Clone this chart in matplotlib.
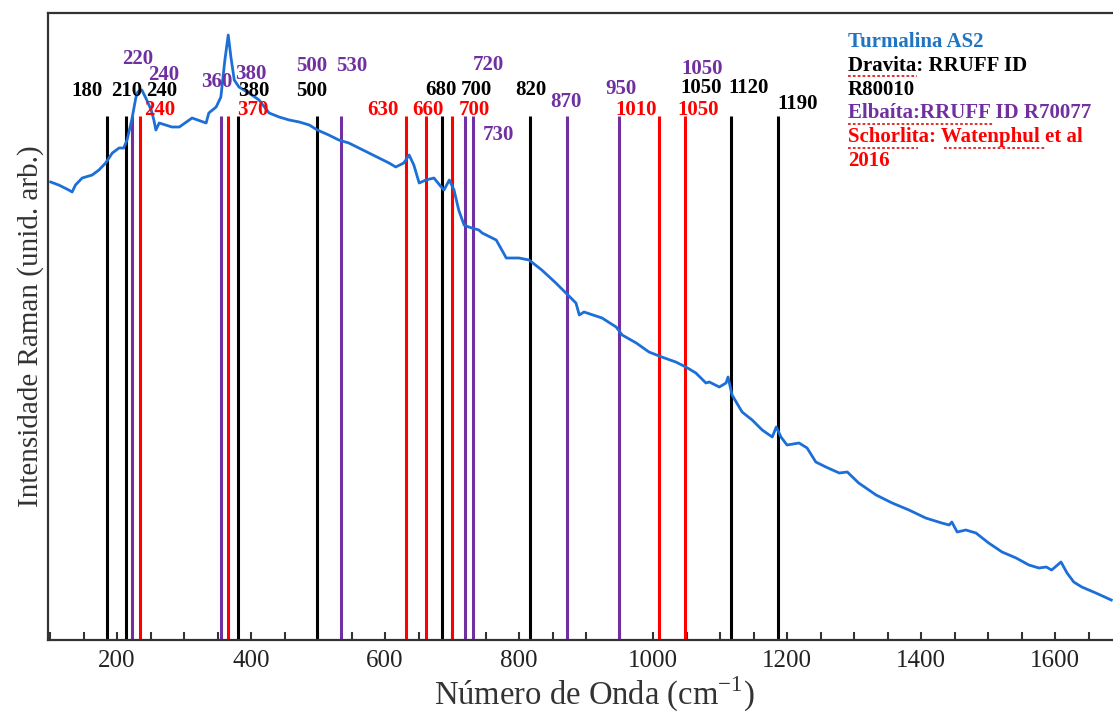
"""Espectro Raman de turmalina AS2 con bandas de referencia (dravita, elbaita, schorlita)."""

import matplotlib

matplotlib.use("Agg")
import matplotlib.pyplot as plt  # noqa: E402
from matplotlib.lines import Line2D  # noqa: E402
from matplotlib.ticker import MultipleLocator  # noqa: E402

FUENTE = "Liberation Serif"
COLOR_ESPECTRO = "#1d6fd8"
COLOR_TITULO = "#1f74c4"
COLOR_DRAVITA = "black"
COLOR_ELBAITA = "#7030a0"
COLOR_SCHORLITA = "#ff0000"
ANCHO, ALTO = 1113, 713

# Espectro (numero de onda, intensidad arbitraria)
numero_onda = [
    101, 113, 128, 133, 138, 148, 163, 173, 183, 193, 203, 210, 215, 222, 228,
    231, 237, 243, 251, 255, 258, 263, 282, 293, 312, 333, 337, 348, 355, 361,
    366, 370, 375, 382, 397, 412, 427, 442, 457, 472, 487, 499, 516, 531, 546,
    561, 576, 591, 606, 616, 628, 636, 643, 651, 661, 673, 684, 688, 696, 703,
    710, 718, 725, 740, 745, 766, 781, 800, 815, 834, 855, 870, 885, 890, 897,
    924, 945, 954, 975, 994, 1013, 1034, 1049, 1064, 1079, 1084, 1099, 1109,
    1112, 1118, 1133, 1148, 1163, 1178, 1184, 1191, 1200, 1218, 1230, 1243,
    1258, 1278, 1290, 1307, 1333, 1357, 1382, 1407, 1431, 1442, 1446, 1454,
    1467, 1482, 1501, 1521, 1542, 1561, 1576, 1587, 1595, 1609, 1618, 1628,
    1640, 1661, 1684,
]
intensidad = [
    458, 455, 450, 448, 455, 462, 465, 470, 477, 487, 492, 492, 500, 520, 542,
    548, 550, 542, 530, 520, 510, 517, 513, 513, 522, 517, 527, 533, 543, 580,
    605, 583, 560, 553, 547, 540, 527, 523, 520, 518, 515, 510, 505, 500, 497,
    492, 487, 482, 477, 473, 477, 485, 475, 457, 460, 462, 453, 450, 460, 450,
    430, 415, 413, 410, 407, 400, 382, 382, 380, 370, 357, 347, 337, 325, 328,
    322, 313, 305, 297, 288, 283, 278, 273, 267, 257, 258, 253, 257,
    263, 245, 228, 220, 210, 203, 213, 203, 195, 197, 192, 178,
    173, 167, 168, 157, 145, 137, 130, 122, 117, 115, 118, 108,
    110, 107, 97, 88, 82, 75, 72, 73, 70, 78, 67, 58,
    53, 47, 40,
]

# Posiciones de las lineas de referencia (cm-1)
lineas_dravita = [185, 213, 381, 498, 685, 816, 1116, 1187]
lineas_elbaita = [222, 355, 534, 719, 731, 871, 949]
lineas_schorlita = [234, 366, 631, 661, 700, 1009, 1048]
TOPE_LINEAS = 524

# Rotulos de bandas y donde van (x en cm-1, y en intensidad)
rotulos_dravita = ["180", "210", "240", "380", "500", "680", "700", "820", "1050", "1120", "1190"]
pos_dravita = [(155, 549), (215, 549), (266, 549), (404, 549), (491, 549), (684, 550),
               (736, 550), (818, 550), (1072, 552), (1143, 552), (1216, 536)]
rotulos_elbaita = ["220", "240", "360", "380", "500", "530", "720", "730", "870", "950", "1050"]
pos_elbaita = [(231, 581), (269, 565), (349, 558), (400, 566), (491, 574), (551, 574),
               (754, 575), (769, 505), (870, 538), (952, 551), (1073, 571)]
rotulos_schorlita = ["240", "370", "630", "660", "700", "1010", "1050"]
pos_schorlita = [(263, 530), (403, 530), (597, 530), (664, 530), (733, 530),
                 (975, 530), (1067, 530)]

leyenda = [
    ("Turmalina AS2", COLOR_TITULO),
    ("Dravita: RRUFF ID", COLOR_DRAVITA),
    ("R80010", COLOR_DRAVITA),
    ("Elbaíta:RRUFF ID R70077", COLOR_ELBAITA),
    ("Schorlita: Watenphul et al", COLOR_SCHORLITA),
    ("2016", COLOR_SCHORLITA),
]
# Subrayado del corrector ortografico (x0, x1, y en pixeles)
subrayados = [(848, 917, 76), (848, 993, 124), (848, 918, 148), (944, 1045, 148)]

plt.rcParams["font.family"] = [FUENTE, "DejaVu Serif"]

fig = plt.figure(figsize=(ANCHO / 100, ALTO / 100), dpi=100)
ax = fig.add_axes([48 / ANCHO, 73 / ALTO, 1074 / ANCHO, 627 / ALTO])

ax.plot(numero_onda, intensidad, color=COLOR_ESPECTRO, lw=2.0, zorder=3)

for pos in lineas_dravita:
    ax.vlines(pos, 0, TOPE_LINEAS, color=COLOR_DRAVITA, lw=2.2, zorder=2)
for pos in lineas_elbaita:
    ax.vlines(pos, 0, TOPE_LINEAS, color=COLOR_ELBAITA, lw=2.2, zorder=2)
for pos in lineas_schorlita:
    ax.vlines(pos, 0, TOPE_LINEAS, color=COLOR_SCHORLITA, lw=2.2, zorder=2)

for grupo, color in (
    (zip(rotulos_dravita, pos_dravita), COLOR_DRAVITA),
    (zip(rotulos_elbaita, pos_elbaita), COLOR_ELBAITA),
    (zip(rotulos_schorlita, pos_schorlita), COLOR_SCHORLITA),
):
    for texto, (x, y) in grupo:
        ax.text(x, y, texto, color=color, fontsize=15, fontweight="bold",
                ha="center", va="center", zorder=4)

for i, (texto, color) in enumerate(leyenda):
    y_px = 42 + i * 23.8
    fig.text(848 / ANCHO, 1 - y_px / ALTO, texto, color=color, fontsize=15,
             fontweight="bold", ha="left", va="center")

for x0, x1, y in subrayados:
    fig.add_artist(Line2D([x0 / ANCHO, x1 / ANCHO], [1 - y / ALTO] * 2,
                          color="#e02020", lw=1.3, ls=(0, (1.5, 1.2))))

ax.set_xlim(97, 1700)
ax.set_ylim(0, 627)
ax.xaxis.set_major_locator(MultipleLocator(200))
ax.xaxis.set_minor_locator(MultipleLocator(50))
ax.tick_params(axis="x", which="both", direction="in", length=6, width=1.5,
               labelsize=18, pad=7, colors="#333333", labelcolor="#222222")
ax.set_yticks([])
for lado in ("left", "bottom", "top"):
    ax.spines[lado].set_linewidth(1.6)
    ax.spines[lado].set_color("#333333")
ax.spines["right"].set_visible(False)

fig.text(594 / ANCHO, 1 - 694 / ALTO, "Número de Onda (cm$^{\\mathregular{-1}}$)",
         fontsize=23.5, color="#333333", ha="center", va="center")
ax.set_ylabel("Intensidade Raman (unid. arb.)", fontsize=21, color="#333333", labelpad=3)

fig.savefig("out.png", dpi=100)
